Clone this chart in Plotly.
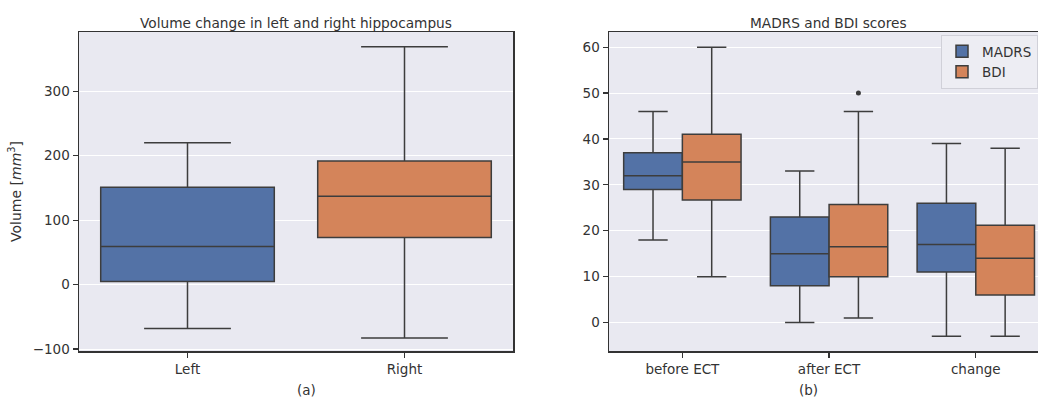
import plotly.graph_objects as go

# ---------------- data ----------------
vol_categories = ["Left", "Right"]
vol_q1 = [5, 73]
vol_median = [59, 137]
vol_q3 = [151, 192]
vol_lower = [-68, -83]
vol_upper = [220, 369]

score_categories = ["before ECT", "after ECT", "change"]
madrs_q1 = [29, 8, 11]
madrs_median = [32, 15, 17]
madrs_q3 = [37, 23, 26]
madrs_lower = [18, 0, -3]
madrs_upper = [46, 33, 39]

bdi_q1 = [26.7, 10, 6]
bdi_median = [35, 16.5, 14]
bdi_q3 = [41, 25.7, 21.2]
bdi_lower = [10, 1, -3]
bdi_upper = [60, 46, 38]

bdi_outlier_cat = [1]
bdi_outlier_val = [50]

vol_ticks = [-100, 0, 100, 200, 300]
score_ticks = [0, 10, 20, 30, 40, 50, 60]

# ---------------- style ----------------
BLUE = "#5372a6"
ORANGE = "#d4845a"
LINE = "#3d3d3d"
BG = "#e9e9f1"
FRAME = "#333333"
FONT = "DejaVu Sans"
TXT = "#333333"

W, H = 1038, 400
fig = go.Figure()

# left panel
for i, cat in enumerate(vol_categories):
    fig.add_trace(go.Box(
        x=[i], q1=[vol_q1[i]], median=[vol_median[i]], q3=[vol_q3[i]],
        lowerfence=[vol_lower[i]], upperfence=[vol_upper[i]],
        width=0.8, whiskerwidth=0.5,
        fillcolor=[BLUE, ORANGE][i], line=dict(color=LINE, width=1.5),
        boxpoints=False, showlegend=False, hoverinfo="skip",
        xaxis="x", yaxis="y",
    ))

# right panel
off = 0.2
for name, col, q1, med, q3, lo, up, sgn in [
    ("MADRS", BLUE, madrs_q1, madrs_median, madrs_q3, madrs_lower, madrs_upper, -1),
    ("BDI", ORANGE, bdi_q1, bdi_median, bdi_q3, bdi_lower, bdi_upper, 1),
]:
    fig.add_trace(go.Box(
        name=name,
        x=[i + sgn * off for i in range(len(score_categories))],
        q1=q1, median=med, q3=q3, lowerfence=lo, upperfence=up,
        width=0.4, whiskerwidth=0.5,
        fillcolor=col, line=dict(color=LINE, width=1.5),
        boxpoints=False, showlegend=True, hoverinfo="skip",
        xaxis="x2", yaxis="y2",
    ))

fig.add_trace(go.Scatter(
    x=[c + off for c in bdi_outlier_cat], y=bdi_outlier_val, mode="markers",
    marker=dict(color=LINE, size=5, symbol="circle"),
    showlegend=False, hoverinfo="skip", xaxis="x2", yaxis="y2",
))

def px_x(p):
    return p / W

def px_y(p):
    return 1 - p / H

ydom = [px_y(351), px_y(32)]
axis_common = dict(
    showline=True, linecolor=FRAME, linewidth=1.5,
    ticks="outside", ticklen=5, tickwidth=1.2, tickcolor=FRAME,
    tickfont=dict(family=FONT, size=13.5, color=TXT),
    zeroline=False, automargin=False,
)

fig.update_layout(
    width=W, height=H,
    margin=dict(l=0, r=0, t=0, b=0, autoexpand=False),
    paper_bgcolor="white",
    plot_bgcolor=BG,
    font=dict(family=FONT, color=TXT),
    xaxis=dict(domain=[px_x(79), px_x(513)], range=[-0.5, 1.5],
               tickvals=list(range(len(vol_categories))), ticktext=vol_categories,
               showgrid=False, mirror=True, anchor="y", **axis_common),
    yaxis=dict(domain=ydom, range=[-103, 392], tickvals=vol_ticks,
               showgrid=True, gridcolor="white", gridwidth=1, mirror=True, anchor="x",
               title=dict(text="Volume [<i>mm</i><sup>3</sup>]",
                          font=dict(family=FONT, size=14, color=TXT), standoff=8),
               **axis_common),
    xaxis2=dict(domain=[px_x(609), 1.0], range=[-0.5, 2.424],
                tickvals=list(range(len(score_categories))), ticktext=score_categories,
                showgrid=False, mirror=True, anchor="y2", **axis_common),
    yaxis2=dict(domain=ydom, range=[-6.2, 63.3], tickvals=score_ticks,
                showgrid=True, gridcolor="white", gridwidth=1, mirror=False, anchor="x2",
                **axis_common),
    legend=dict(x=px_x(941), y=px_y(35), xanchor="left", yanchor="top",
                bgcolor="#ededf3", bordercolor="#d0d0d8", borderwidth=1,
                font=dict(family=FONT, size=13.5, color=TXT),
                tracegroupgap=2),
    annotations=[
        dict(text="Volume change in left and right hippocampus", x=px_x(296), y=px_y(23),
             xref="paper", yref="paper", xanchor="center", yanchor="middle", showarrow=False,
             font=dict(family=FONT, size=13.7, color=TXT)),
        dict(text="MADRS and BDI scores", x=px_x(828), y=px_y(23),
             xref="paper", yref="paper", xanchor="center", yanchor="middle", showarrow=False,
             font=dict(family=FONT, size=13.7, color=TXT)),
        dict(text="(a)", x=px_x(307), y=px_y(390), xref="paper", yref="paper",
             xanchor="center", yanchor="middle",
             showarrow=False, font=dict(family=FONT, size=13.5, color=TXT)),
        dict(text="(b)", x=px_x(808), y=px_y(390), xref="paper", yref="paper",
             xanchor="center", yanchor="middle",
             showarrow=False, font=dict(family=FONT, size=13.5, color=TXT)),
    ],
)

post = (
    "var de=document.documentElement, b=document.body;"
    "de.style.margin='0';de.style.padding='0';de.style.overflow='hidden';de.style.height='400px';"
    "b.style.margin='0';b.style.padding='0';b.style.overflow='hidden';b.style.height='400px';"
    "var g=document.getElementById('{plot_id}');"
    "if(g&&g.parentNode){g.parentNode.style.height='400px';g.parentNode.style.overflow='hidden';"
    "g.parentNode.style.lineHeight='0';}"
)

fig.write_html("out.html", config={"displayModeBar": False, "staticPlot": True},
               post_script=post)
